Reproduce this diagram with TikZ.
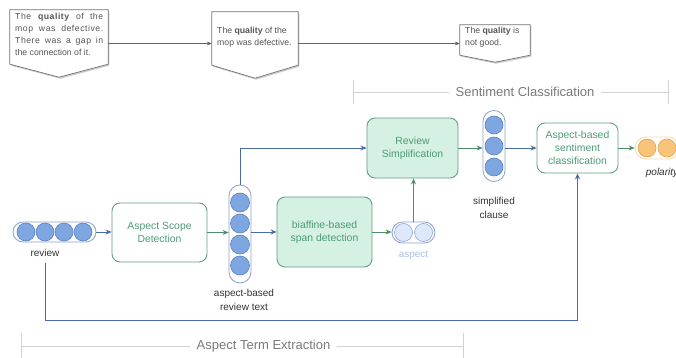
\documentclass[tikz,border=0pt]{standalone}
\usepackage{fontspec}
\setmainfont{Liberation Sans}
\usetikzlibrary{arrows.meta,shadows}
\definecolor{grn}{HTML}{629E82}
\definecolor{grntext}{HTML}{4F9A76}
\definecolor{mint}{HTML}{D5F1E3}
\definecolor{pillbd}{HTML}{8CA0CC}
\definecolor{circ}{HTML}{7EA6E0}
\definecolor{circbd}{HTML}{5A80BE}
\definecolor{lcirc}{HTML}{DDE9FA}
\definecolor{lcircbd}{HTML}{8AA8D8}
\definecolor{asptext}{HTML}{A8C0E8}
\definecolor{orng}{HTML}{F9C47A}
\definecolor{orngbd}{HTML}{E2A24A}
\definecolor{orngpill}{HTML}{F3D9AE}
\definecolor{arrblue}{HTML}{4A6CA6}
\definecolor{arrgreen}{HTML}{4E8C6C}
\definecolor{sect}{HTML}{D2D2D2}
\definecolor{secttext}{HTML}{7A7A7A}
\definecolor{toptext}{HTML}{555555}
\newcommand{\spreadline}[1]{\makebox[88pt][s]{\addfontfeature{LetterSpace=6}#1}}
\begin{document}
\begin{tikzpicture}[x=1pt,y=-1pt,
  box/.style={draw=grn, line width=0.9pt, rounded corners=8pt, fill=white, text=grntext,
    align=center, font=\fontsize{10.4}{13}\selectfont, inner sep=0pt},
  mbox/.style={box, fill=mint},
  pill/.style={draw=pillbd, line width=0.8pt, fill=white, inner sep=0pt},
  dot/.style={circle, draw=circbd, fill=circ, line width=0.6pt, minimum size=18pt, inner sep=0pt},
  ldot/.style={dot, draw=lcircbd, fill=lcirc},
  odot/.style={dot, draw=orngbd, fill=orng},
  lbl/.style={text=black!80, font=\fontsize{10}{14}\selectfont, align=center, inner sep=0pt},
  barrow/.style={draw=arrblue, line width=0.8pt, -{Stealth[length=6pt,width=5pt]}},
  garrow/.style={draw=arrgreen, line width=0.8pt, -{Stealth[length=6pt,width=5pt]}},
  tarrow/.style={draw=black!60, line width=0.6pt, -{Stealth[length=5pt,width=4pt]}},
  callout/.style={draw=black!55, line width=0.7pt, fill=white,
    drop shadow={shadow xshift=1.2pt, shadow yshift=-1.5pt, opacity=0.4}},
  cbox/.style={inner sep=0pt},
  ctext/.style={text=toptext, align=left, anchor=north west, inner sep=0pt,
    font=\fontsize{8.7}{12}\selectfont},
  sectline/.style={draw=sect, line width=0.8pt},
  secttitle/.style={text=secttext, font=\fontsize{13}{15}\selectfont, inner sep=6pt}
]
\useasboundingbox[fill=white] (0,0) rectangle (676,358);

% ---- top callouts
\node[cbox, minimum width=98pt, minimum height=67pt] (b1) at (59,43.5) {};
\node[cbox, minimum width=86pt, minimum height=66pt] (b2) at (255,45) {};
\node[cbox, minimum width=70pt, minimum height=37pt] (b3) at (495,43.5) {};
\path[callout] (b1.north west) -- (b1.north east) -- ([yshift=13pt]b1.south east) -- (b1.south) -- ([yshift=13pt]b1.south west) -- cycle;
\path[callout] (b2.north west) -- (b2.north east) -- ([yshift=13pt]b2.south east) -- (b2.south) -- ([yshift=13pt]b2.south west) -- cycle;
\path[callout] (b3.north west) -- (b3.north east) -- ([yshift=7pt]b3.south east) -- (b3.south) -- ([yshift=7pt]b3.south west) -- cycle;
\node[ctext] (t1) at (15,13) {\spreadline{The \textbf{quality} of the}\\ \spreadline{mop was defective.}\\ \spreadline{There was a gap in}\\ the connection of it.};
\node[ctext] (t2) at (217,27) {The \textbf{quality} of the\\ mop was defective.};
\node[ctext] (t3) at (465,27) {The \textbf{quality} is\\ not good.};
\draw[tarrow] (b1.east) -- (b2.west |- b1.east);
\draw[tarrow] (b2.east |- b1.east) -- (b3.west);

% ---- section headers
\node[secttitle] (sc) at (525,92) {Sentiment Classification};
\coordinate (scL) at (353,92);
\coordinate (scR) at (668,92);
\draw[sectline] (scL) -- (sc.west) (sc.east) -- (scR);
\draw[sectline] ([yshift=12pt]scL) -- ([yshift=-12pt]scL) ([yshift=12pt]scR) -- ([yshift=-12pt]scR);

\node[secttitle] (ate) at (263.5,346) {Aspect Term Extraction};
\coordinate (ateL) at (21,346);
\coordinate (ateR) at (463,346);
\draw[sectline] (ateL) -- (ate.west) (ate.east) -- (ateR);
\draw[sectline] ([yshift=13pt]ateL) -- ([yshift=-13pt]ateL) ([yshift=13pt]ateR) -- ([yshift=-13pt]ateR);

% ---- review pill
\node[pill, minimum width=83pt, minimum height=20pt, rounded corners=10pt] (rev) at (54.5,232) {};
\foreach \i/\dx in {1/-28.5,2/-9.5,3/9.5,4/28.5}
  \node[dot] (rev\i) at ([xshift=\dx pt]rev.center) {};
\node[lbl] (revl) at (45,253) {review};

% ---- aspect scope detection
\node[box, minimum width=95pt, minimum height=59pt] (asd) at (159.5,232.5) {Aspect Scope\\ Detection};

% ---- aspect-based review text pill
\node[pill, minimum width=22pt, minimum height=98pt, rounded corners=11pt] (abrt) at (240,234) {};
\foreach \i/\dy in {1/-31.5,2/-10.5,3/10.5,4/31.5}
  \node[dot, minimum size=19pt] (abrt\i) at ([yshift=-\dy pt]abrt.center) {};
\node[lbl] (abrtl) at (244,299.5) {aspect-based\\ review text};

% ---- biaffine
\node[mbox, minimum width=95pt, minimum height=70pt] (bia) at (324.5,232) {biaffine-based\\ span detection};

% ---- aspect pill
\node[pill, minimum width=43pt, minimum height=21pt, rounded corners=10.5pt] (asp) at (413.5,232.5) {};
\node[ldot] (asp1) at ([xshift=-10pt]asp.center) {};
\node[ldot] (asp2) at ([xshift=10pt]asp.center) {};
\node[lbl, text=asptext] (aspl) at (413.5,255) {aspect};

% ---- review simplification
\node[mbox, minimum width=91pt, minimum height=60pt] (rs) at (412.5,148) {Review\\ Simplification};

% ---- simplified clause pill
\node[pill, minimum width=22pt, minimum height=71pt, rounded corners=11pt] (scp) at (494,146) {};
\foreach \i/\dy in {1/-21,2/0,3/21}
  \node[dot] (scp\i) at ([yshift=-\dy pt]scp.center) {};
\node[lbl] (scpl) at (494,207.5) {simplified\\ clause};

% ---- ABSC
\node[box, minimum width=81pt, minimum height=50pt] (absc) at (577.5,148) {Aspect-based\\ sentiment\\ classification};

% ---- polarity pill
\node[pill, draw=orngpill, minimum width=44pt, minimum height=22pt, rounded corners=11pt] (pol) at (657,148) {};
\node[odot] (pol1) at ([xshift=-10pt]pol.center) {};
\node[odot] (pol2) at ([xshift=10pt]pol.center) {};
\node[lbl, font=\fontsize{10}{14}\selectfont\itshape] (poll) at (662,173) {polarity};

% ---- connectors
\draw[barrow] (rev.east) -- (asd.west |- rev.east);
\draw[garrow] (asd.east) -- (abrt.west |- asd.east);
\draw[barrow] (abrt.east |- bia.west) -- (bia.west);
\draw[garrow] (bia.east) -- (asp.west |- bia.east);
\draw[garrow] (asp.north) -- (asp.north |- rs.south);
\draw[barrow] (abrt.north) |- (rs.west);
\draw[garrow] (rs.east) -- (scp.west |- rs.east);
\draw[barrow] (scp.east |- absc.west) -- (absc.west);
\draw[garrow] (absc.east) -- (pol.west);
\coordinate (rb) at (45,263);
\coordinate (bl) at (45,320);
\draw[barrow] (rb) -- (bl) -| (absc.south);
\end{tikzpicture}
\end{document}
